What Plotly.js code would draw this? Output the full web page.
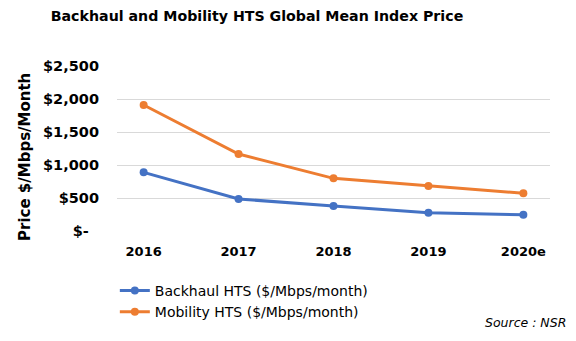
<!DOCTYPE html>
<html><head><meta charset="utf-8">
<script src="https://cdn.plot.ly/plotly-3.0.1.min.js"></script>
<style>html,body{margin:0;padding:0;background:#fff;}#c{width:576px;height:341px;}</style>
</head><body><div id="c"></div>
<script>
const years = ["2016", "2017", "2018", "2019", "2020e"];
const backhaul = [889, 485, 379, 277, 247];
const mobility = [1909, 1167, 798, 682, 571];
const yTickVals = [0, 500, 1000, 1500, 2000, 2500];
const yTickText = ["$-\u00a0\u00a0", "$500", "$1,000", "$1,500", "$2,000", "$2,500"];
const seriesNames = ["Backhaul HTS ($/Mbps/month)", "Mobility HTS ($/Mbps/month)"];

const F = "DejaVu Sans, Verdana, sans-serif";
const traces = [
  {x: years, y: backhaul, name: seriesNames[0], type: "scatter", mode: "lines+markers",
   line: {color: "#4472C4", width: 3}, marker: {color: "#4472C4", size: 8}},
  {x: years, y: mobility, name: seriesNames[1], type: "scatter", mode: "lines+markers",
   line: {color: "#ED7D31", width: 3}, marker: {color: "#ED7D31", size: 8}}
];
const layout = {
  width: 576, height: 341,
  margin: {l: 117, r: 26, t: 66, b: 110},
  paper_bgcolor: "#fff", plot_bgcolor: "#fff",
  font: {family: F, color: "#000"},
  title: {text: "<b>Backhaul and Mobility HTS Global Mean Index Price</b>", x: 257/576, xanchor: "center",
          y: 1 - 16/341, yanchor: "middle", font: {size: 14.2, family: F, color: "#000"}},
  xaxis: {type: "category", showgrid: false, zeroline: false, showline: false, ticks: "",
          ticklabelstandoff: 11,
          tickfont: {size: 13, family: F, color: "#000", weight: "bold"}},
  yaxis: {range: [0, 2500], tickvals: yTickVals, ticktext: yTickText, showgrid: true,
          gridcolor: "#d9d9d9", gridwidth: 1, zeroline: false, showline: false, ticks: "",
          ticklabelstandoff: 17,
          tickfont: {size: 14.5, family: F, color: "#000", weight: "bold"}},
  legend: {orientation: "v", x: -0.005, xanchor: "left", y: -0.266, yanchor: "top",
           font: {size: 14, family: F, color: "#000"}, itemwidth: 30, tracegroupgap: 0, bgcolor: "rgba(0,0,0,0)"},
  showlegend: true,
  annotations: [
    {text: "<i>Source : NSR</i>", xref: "paper", yref: "paper", x: (568 - 117) / 433, xanchor: "right",
     y: (231 - 322) / 165, yanchor: "middle", showarrow: false, font: {size: 12.5, family: F, color: "#000"}},
    {text: "<b>Price $/Mbps/Month</b>", xref: "paper", yref: "paper", x: (25 - 117) / 433, xanchor: "center",
     y: (231 - 157) / 165, yanchor: "middle", textangle: -90, showarrow: false, font: {size: 15, family: F, color: "#000"}}
  ]
};
Plotly.newPlot("c", traces, layout, {displayModeBar: false, staticPlot: true});
</script>
</body></html>
